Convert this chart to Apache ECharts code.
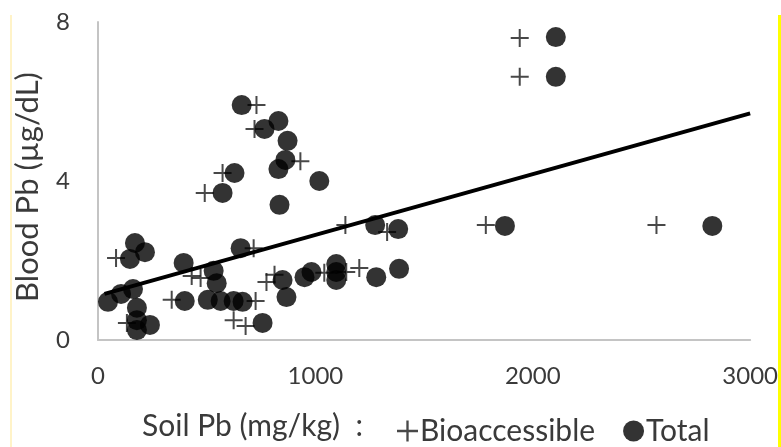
<!DOCTYPE html>
<html>
<head>
<meta charset="utf-8">
<script src="https://cdn.jsdelivr.net/npm/echarts@6/dist/echarts.min.js"></script>
<style>
  html, body { margin: 0; padding: 0; background: #fff; }
  #chart { width: 781px; height: 447px; }
</style>
</head>
<body>
<div id="chart"></div>
<script>
// Soil lead (mg/kg) against children's blood lead (µg/dL)
const soilBio   = [83, 431, 472, 339, 716, 725, 624, 679, 775, 812, 1041, 1142, 1202, 1138, 1330, 1784, 1940, 1940, 2569, 729, 720, 931, 573, 491, 133];
const bloodBio  = [2.06, 1.61, 1.56, 1.01, 2.31, 0.98, 0.50, 0.35, 1.46, 1.64, 1.69, 1.71, 1.81, 2.89, 2.72, 2.89, 7.60, 6.62, 2.89, 5.91, 5.31, 4.50, 4.20, 3.70, 0.43];

const soilTotal  = [46, 106, 161, 170, 216, 147, 179, 179, 239, 179, 394, 532, 546, 399, 505, 564, 624, 665, 656, 757, 661, 830, 766, 872, 862, 830, 1018, 628, 573, 835, 849, 867, 950, 982, 1096, 1096, 1096, 1280, 1385, 1275, 1381, 1872, 2106, 2106, 2826];
const bloodTotal = [0.96, 1.16, 1.28, 2.44, 2.21, 2.04, 0.81, 0.50, 0.38, 0.25, 1.94, 1.74, 1.43, 0.98, 1.01, 0.98, 0.98, 0.96, 2.31, 0.43, 5.91, 5.51, 5.31, 5.01, 4.53, 4.30, 4.00, 4.20, 3.70, 3.40, 1.51, 1.08, 1.58, 1.71, 1.91, 1.51, 1.71, 1.58, 1.79, 2.89, 2.79, 2.87, 7.62, 6.62, 2.87];

// Linear trend line end points
const trendSoil  = [30, 3000];
const trendBlood = [1.16, 5.70];

const xTicks = [0, 1000, 2000, 3000];
const yTicks = [0, 4, 8];

const pair = (xs, ys) => xs.map((x, i) => [x, ys[i]]);
const plusPath = 'path://M8,0H10V8H18V10H10V18H8V10H0V8H8Z';
const font = 'Lato, "Open Sans", sans-serif';

const chart = echarts.init(document.getElementById('chart'), null, { renderer: 'canvas' });
chart.setOption({
  animation: false,
  backgroundColor: '#ffffff',
  grid: { left: 98, right: 29, top: 22, bottom: 107, containLabel: false },
  xAxis: {
    type: 'value',
    min: xTicks[0], max: xTicks[xTicks.length - 1], interval: 1000,
    axisLine: { show: true, lineStyle: { color: '#c4c4c4', width: 2 } },
    axisTick: { show: false },
    splitLine: { show: false },
    axisLabel: { color: '#3a3a3a', fontFamily: font, fontSize: 24, margin: 24, formatter: v => String(v) }
  },
  yAxis: {
    type: 'value',
    min: yTicks[0], max: yTicks[yTicks.length - 1], interval: 4,
    axisLine: { show: true, lineStyle: { color: '#c4c4c4', width: 2 } },
    axisTick: { show: false },
    splitLine: { show: false },
    axisLabel: { color: '#3a3a3a', fontFamily: font, fontSize: 24, margin: 28, formatter: v => String(v) }
  },
  legend: {
    left: 392, top: 411,
    itemGap: 28, itemWidth: 21, itemHeight: 21,
    textStyle: { color: '#3a3a3a', fontFamily: font, fontSize: 30, padding: [0, 0, 0, -3] },
    data: [
      { name: 'Bioaccessible', icon: plusPath },
      { name: 'Total', icon: 'circle' }
    ]
  },
  graphic: [
    {
      type: 'text', left: 142, top: 411,
      style: { text: 'Soil Pb (mg/kg)\u00a0\u00a0:', fill: '#3a3a3a', font: '30px ' + font }
    },
    {
      type: 'text', x: 28, y: 187, rotation: Math.PI / 2,
      style: { text: 'Blood Pb (µg/dL)', fill: '#3a3a3a', font: '31px ' + font, align: 'center', verticalAlign: 'middle' }
    },
    { type: 'rect', shape: { x: 778, y: 15, width: 3, height: 432 }, style: { fill: '#ffff00' }, silent: true },
    { type: 'rect', shape: { x: 10, y: 15, width: 2, height: 432 }, style: { fill: '#fff3c8' }, silent: true }
  ],
  series: [
    {
      name: 'Bioaccessible', type: 'scatter', z: 2,
      symbol: plusPath, symbolSize: 18,
      itemStyle: { color: '#1a1a1a' },
      data: pair(soilBio, bloodBio)
    },
    {
      name: 'Total', type: 'scatter', z: 3,
      symbol: 'circle', symbolSize: 20,
      itemStyle: { color: '#000000' },
      data: pair(soilTotal, bloodTotal)
    },
    {
      name: 'Trend', type: 'line', z: 4,
      symbol: 'none', silent: true,
      lineStyle: { color: '#000000', width: 4 },
      data: pair(trendSoil, trendBlood)
    }
  ]
});
</script>
</body>
</html>
